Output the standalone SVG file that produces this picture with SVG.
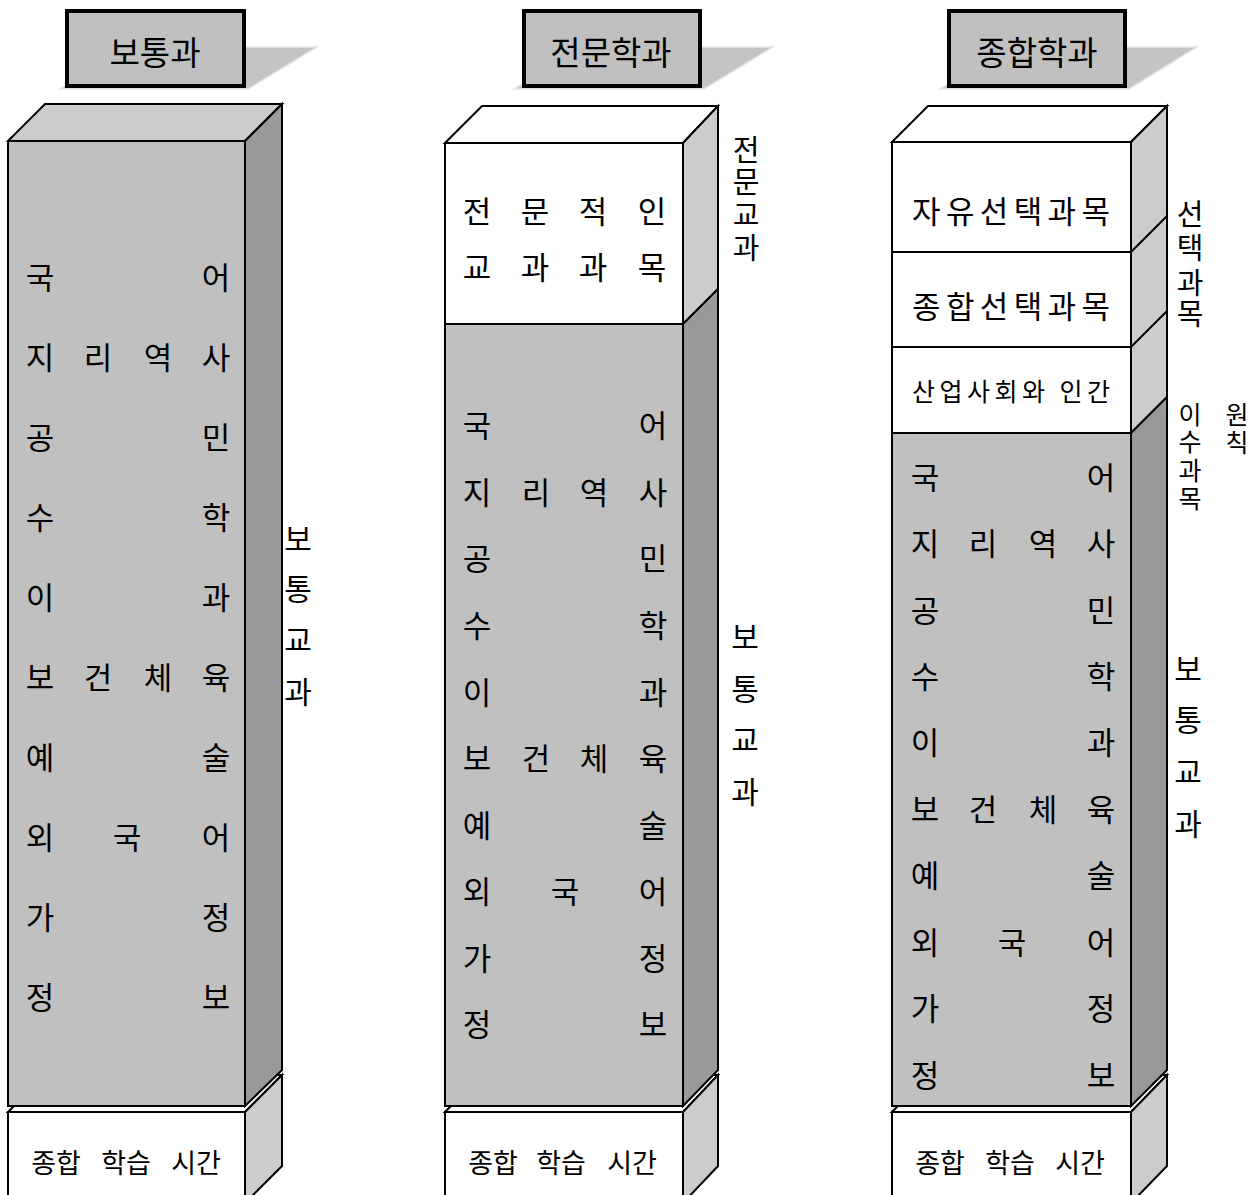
<svg xmlns="http://www.w3.org/2000/svg" width="1258" height="1195" viewBox="0 0 1258 1195">
<style>
text{font-family:"Noto Sans CJK KR","Noto Sans",sans-serif;fill:#000;text-anchor:middle;dominant-baseline:central}
.t{font-size:31px}
.h{font-size:33px}
.b{font-size:27px}
.s{font-size:30px}
.st{font-size:29px}
.sm{font-size:25px}
.ln{stroke:#000;stroke-width:2;stroke-linejoin:miter}
.hb{fill:#c0c0c0;stroke:#000;stroke-width:4}
.sh{fill:#c4c4c4;stroke:#e4e4e4;stroke-width:1.5}
.fg{fill:#c0c0c0}
.tg{fill:#cccccc}
.sd{fill:#999999}
.sl{fill:#cccccc}
.w{fill:#ffffff}
</style>

<!-- Headers -->
<g id="header1">
<polygon class="sh" points="60,89 131,47 317,47 248,89"/>
<rect class="hb" x="67" y="11" width="177" height="75"/>
<text class="h" x="155" y="51">보통과</text>
</g>
<g id="header2">
<polygon class="sh" points="514,89 585,47 773,47 704,89"/>
<rect class="hb" x="524" y="11" width="176" height="75"/>
<text class="h" x="611" y="51">전문학과</text>
</g>
<g id="header3">
<polygon class="sh" points="940,89 1011,47 1197,47 1129,89"/>
<rect class="hb" x="949" y="11" width="176" height="75"/>
<text class="h" x="1037" y="51">종합학과</text>
</g>

<!-- Bottom boxes -->
<g id="bottom1">
<polygon class="w ln" points="8,1112 45,1075 282,1075 245,1112"/>
<polygon class="sl ln" points="245,1112 282,1075 282,1166 245,1203"/>
<rect class="w ln" x="8" y="1112" width="237" height="91"/>
<text class="b" x="56" y="1161">종합</text>
<text class="b" x="126" y="1161">학습</text>
<text class="b" x="196" y="1161">시간</text>
</g>
<g id="bottom2">
<polygon class="w ln" points="445,1112 482,1075 718,1075 683,1112"/>
<polygon class="sl ln" points="683,1112 718,1075 718,1166 683,1203"/>
<rect class="w ln" x="445" y="1112" width="238" height="91"/>
<text class="b" x="493" y="1161">종합</text>
<text class="b" x="561" y="1161">학습</text>
<text class="b" x="632" y="1161">시간</text>
</g>
<g id="bottom3">
<polygon class="w ln" points="892,1112 928,1075 1167,1075 1131,1112"/>
<polygon class="sl ln" points="1131,1112 1167,1075 1167,1166 1131,1203"/>
<rect class="w ln" x="892" y="1112" width="239" height="91"/>
<text class="b" x="940" y="1161">종합</text>
<text class="b" x="1010" y="1161">학습</text>
<text class="b" x="1080" y="1161">시간</text>
</g>

<!-- Column 1 -->
<g id="column1">
<polygon class="tg ln" points="8,141 45,104 282,104 245,141"/>
<polygon class="sd ln" points="245,141 282,104 282,1070 245,1106"/>
<rect class="fg ln" x="8" y="141" width="237" height="965"/>
<g class="t">
<text x="40" y="275">국</text><text x="216" y="275">어</text>
<text x="40" y="355">지</text><text x="98" y="355">리</text><text x="158" y="355">역</text><text x="216" y="355">사</text>
<text x="40" y="435">공</text><text x="216" y="435">민</text>
<text x="40" y="515">수</text><text x="216" y="515">학</text>
<text x="40" y="595">이</text><text x="216" y="595">과</text>
<text x="40" y="675">보</text><text x="98" y="675">건</text><text x="158" y="675">체</text><text x="216" y="675">육</text>
<text x="40" y="755">예</text><text x="216" y="755">술</text>
<text x="40" y="835">외</text><text x="127" y="835">국</text><text x="216" y="835">어</text>
<text x="40" y="915">가</text><text x="216" y="915">정</text>
<text x="40" y="995">정</text><text x="216" y="995">보</text>
</g>
</g>
<g id="label1">
<text class="s" x="298" y="537">보</text>
<text class="s" x="298" y="587">통</text>
<text class="s" x="298" y="638">교</text>
<text class="s" x="298" y="690">과</text>
</g>

<!-- Column 2 -->
<g id="column2">
<polygon class="w ln" points="445,143 482,106 718,106 683,143"/>
<polygon class="sl ln" points="683,143 718,106 718,289 683,324"/>
<polygon class="sd ln" points="683,324 718,289 718,1070 683,1106"/>
<rect class="w ln" x="445" y="143" width="238" height="181"/>
<rect class="fg ln" x="445" y="324" width="238" height="782"/>
<g class="t">
<text x="477" y="209">전</text><text x="535" y="209">문</text><text x="593" y="209">적</text><text x="652" y="209">인</text>
<text x="477" y="265">교</text><text x="535" y="265">과</text><text x="593" y="265">과</text><text x="652" y="265">목</text>
<text x="477" y="423">국</text><text x="653" y="423">어</text>
<text x="477" y="490">지</text><text x="536" y="490">리</text><text x="594" y="490">역</text><text x="653" y="490">사</text>
<text x="477" y="556">공</text><text x="653" y="556">민</text>
<text x="477" y="623">수</text><text x="653" y="623">학</text>
<text x="477" y="690">이</text><text x="653" y="690">과</text>
<text x="477" y="756">보</text><text x="536" y="756">건</text><text x="594" y="756">체</text><text x="653" y="756">육</text>
<text x="477" y="823">예</text><text x="653" y="823">술</text>
<text x="477" y="889">외</text><text x="565" y="889">국</text><text x="653" y="889">어</text>
<text x="477" y="956">가</text><text x="653" y="956">정</text>
<text x="477" y="1022">정</text><text x="653" y="1022">보</text>
</g>
</g>
<g id="label2a">
<text class="st" x="746" y="148">전</text>
<text class="st" x="746" y="180">문</text>
<text class="st" x="746" y="213">교</text>
<text class="st" x="746" y="246">과</text>
</g>
<g id="label2b">
<text class="s" x="745" y="635">보</text>
<text class="s" x="745" y="687">통</text>
<text class="s" x="745" y="738">교</text>
<text class="s" x="745" y="790">과</text>
</g>

<!-- Column 3 -->
<g id="column3">
<polygon class="w ln" points="892,142 928,106 1167,106 1131,142"/>
<polygon class="sl ln" points="1131,142 1167,106 1167,397 1131,433"/>
<line class="ln" x1="1131" y1="252" x2="1167" y2="216"/>
<line class="ln" x1="1131" y1="347" x2="1167" y2="311"/>
<polygon class="sd ln" points="1131,433 1167,397 1167,1070 1131,1106"/>
<rect class="w ln" x="892" y="142" width="239" height="110"/>
<rect class="w ln" x="892" y="252" width="239" height="95"/>
<rect class="w ln" x="892" y="347" width="239" height="86"/>
<rect class="fg ln" x="892" y="433" width="239" height="673"/>
<text class="t" x="1011" y="209" textLength="198" lengthAdjust="spacing">자유선택과목</text>
<text class="t" x="1011" y="304" textLength="198" lengthAdjust="spacing">종합선택과목</text>
<text class="sm" x="1011" y="390" textLength="198" lengthAdjust="spacing">산업사회와 인간</text>
<g class="t">
<text x="925" y="475">국</text><text x="1101" y="475">어</text>
<text x="925" y="541">지</text><text x="983" y="541">리</text><text x="1043" y="541">역</text><text x="1101" y="541">사</text>
<text x="925" y="608">공</text><text x="1101" y="608">민</text>
<text x="925" y="674">수</text><text x="1101" y="674">학</text>
<text x="925" y="740">이</text><text x="1101" y="740">과</text>
<text x="925" y="807">보</text><text x="983" y="807">건</text><text x="1043" y="807">체</text><text x="1101" y="807">육</text>
<text x="925" y="873">예</text><text x="1101" y="873">술</text>
<text x="925" y="940">외</text><text x="1012" y="940">국</text><text x="1101" y="940">어</text>
<text x="925" y="1006">가</text><text x="1101" y="1006">정</text>
<text x="925" y="1073">정</text><text x="1101" y="1073">보</text>
</g>
</g>
<g id="label3a">
<text class="st" x="1190" y="212">선</text>
<text class="st" x="1190" y="246">택</text>
<text class="st" x="1190" y="281">과</text>
<text class="st" x="1190" y="312">목</text>
</g>
<g id="label3b">
<text class="sm" x="1190" y="413">이</text>
<text class="sm" x="1190" y="440">수</text>
<text class="sm" x="1190" y="469">과</text>
<text class="sm" x="1190" y="497">목</text>
</g>
<g id="label3c">
<text class="sm" x="1237" y="413">원</text>
<text class="sm" x="1237" y="441">칙</text>
</g>
<g id="label3d">
<text class="s" x="1188" y="667">보</text>
<text class="s" x="1188" y="718">통</text>
<text class="s" x="1188" y="770">교</text>
<text class="s" x="1188" y="822">과</text>
</g>
<g id="connectors"/>
</svg>
